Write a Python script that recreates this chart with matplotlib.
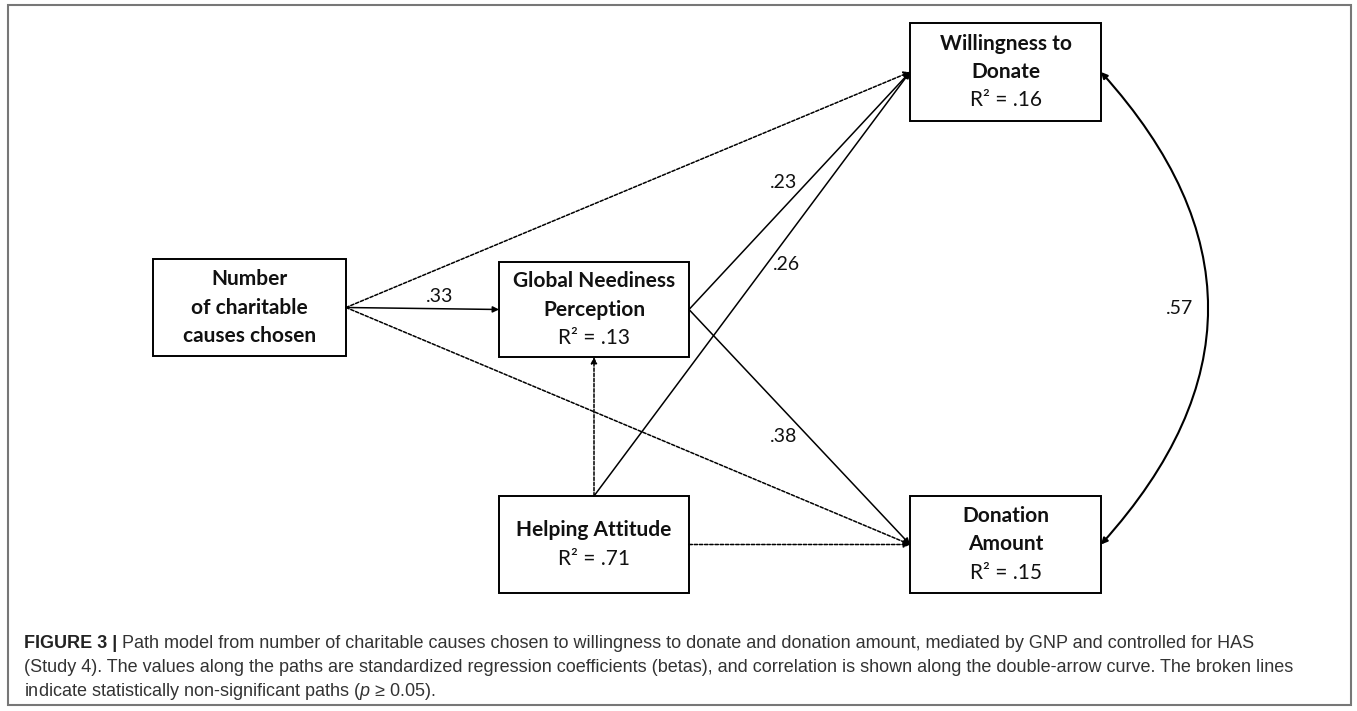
import matplotlib.pyplot as plt
from matplotlib.patches import Rectangle

plt.rcParams["mathtext.fontset"] = "custom"
plt.rcParams["mathtext.it"] = "Liberation Sans:italic"
plt.rcParams["mathtext.rm"] = "Liberation Sans"

# Nodes of the path model
node_keys = ["num", "gnp", "wtd", "has", "don"]
node_names = [
    ["Number", "of charitable", "causes chosen"],
    ["Global Neediness", "Perception"],
    ["Willingness to", "Donate"],
    ["Helping Attitude"],
    ["Donation", "Amount"],
]
node_r2 = [None, ".13", ".16", ".71", ".15"]

# Paths: source, target, beta label, significant
path_src = ["num", "num", "num", "gnp", "gnp", "has", "has", "has"]
path_dst = ["gnp", "wtd", "don", "wtd", "don", "gnp", "wtd", "don"]
path_beta = [".33", None, None, ".23", ".38", None, ".26", None]
path_sig = [True, False, False, True, True, False, True, False]

# Correlation between the two outcomes
corr_pair = ("wtd", "don")
corr_value = ".57"

caption_bold = "FIGURE 3 |"
caption_lines = [
    " Path model from number of charitable causes chosen to willingness to donate and donation amount, mediated by GNP and controlled for HAS",
    "(Study 4). The values along the paths are standardized regression coefficients (betas), and correlation is shown along the double-arrow curve. The broken lines",
    "indicate statistically non-significant paths ($p$ \u2265 0.05).",
]

# layout in pixel coordinates (x0, y0, x1, y1)
boxes = {
    "num": (153, 259, 346, 356),
    "gnp": (499, 262, 689, 357),
    "wtd": (910, 23, 1101, 121),
    "has": (499, 496, 689, 593),
    "don": (910, 496, 1101, 593),
}
# where each path leaves / enters a box
src_side = ["right", "right", "right", "right", "right", "top", "top", "right"]
dst_side = ["left", "left", "left", "left", "left", "bottom", "left", "left"]
beta_pos = {".33": (440, 296), ".23": (784, 183), ".38": (784, 436), ".26": (786, 264)}


def anchor(key, side):
    x0, y0, x1, y1 = boxes[key]
    cx, cy = (x0 + x1) / 2, (y0 + y1) / 2
    return {"left": (x0, cy), "right": (x1, cy), "top": (cx, y0), "bottom": (cx, y1)}[side]


W, H = 1357, 711
fig = plt.figure(figsize=(W / 100, H / 100), dpi=100)
ax = fig.add_axes([0, 0, 1, 1])
ax.set_xlim(0, W)
ax.set_ylim(H, 0)
ax.axis("off")

# outer frame
ax.add_patch(Rectangle((8, 5), 1343, 700, fill=False, ec="#777777", lw=1.5))

box_font = "Lato"
for key, names, r2 in zip(node_keys, node_names, node_r2):
    x0, y0, x1, y1 = boxes[key]
    ax.add_patch(Rectangle((x0, y0), x1 - x0, y1 - y0, fill=False, ec="black", lw=1.4, zorder=3))
    lines = list(names) + ([f"R\u00b2 = {r2}"] if r2 else [])
    cx, cy = (x0 + x1) / 2, (y0 + y1) / 2
    n = len(lines)
    for i, line in enumerate(lines):
        y = cy + (i - (n - 1) / 2) * 28.5
        bold = not line.startswith("R\u00b2")
        ax.text(cx, y, line, ha="center", va="center", fontsize=15, family=box_font,
                fontweight="bold" if bold else "normal", color="#111111", zorder=4)

for s, d, ss, ds, beta, sig in zip(path_src, path_dst, src_side, dst_side, path_beta, path_sig):
    p0 = anchor(s, ss)
    p1 = anchor(d, ds)
    ls = "-" if sig else (0, (2.2, 1.2))
    ax.annotate("", xy=p1, xytext=p0,
                arrowprops=dict(arrowstyle="-|>", mutation_scale=9, lw=1.1,
                                linestyle=ls, color="black", shrinkA=0, shrinkB=0))
    if beta:
        bx, by = beta_pos[beta]
        ax.text(bx, by, beta, ha="center", va="center", fontsize=14, family=box_font, color="#111111")

# correlation curve
c0 = anchor(corr_pair[0], "right")
c1 = anchor(corr_pair[1], "right")
ax.annotate("", xy=c1, xytext=c0,
            arrowprops=dict(arrowstyle="<|-|>", mutation_scale=9, lw=1.5, color="black",
                            shrinkA=0, shrinkB=0, connectionstyle="arc3,rad=-0.45"))
ax.text(1180, 308, corr_value, ha="center", va="center", fontsize=14, family=box_font, color="#111111")

# caption
cap_font = "Liberation Sans"
cap_size = 13
renderer = fig.canvas.get_renderer()
t = ax.text(24, 643, caption_bold, ha="left", va="center", fontsize=cap_size, family=cap_font,
            fontweight="bold", color="#222222")
bb = t.get_window_extent(renderer=renderer)
x_after = ax.transData.inverted().transform((bb.x1, 0))[0]
ax.text(x_after, 643, caption_lines[0], ha="left", va="center", fontsize=cap_size, family=cap_font, color="#333333")
ax.text(24, 668, caption_lines[1], ha="left", va="center", fontsize=cap_size, family=cap_font, color="#333333")
ax.text(24, 692, caption_lines[2], ha="left", va="center", fontsize=cap_size, family=cap_font, color="#333333")

fig.savefig("out.png", dpi=100)
